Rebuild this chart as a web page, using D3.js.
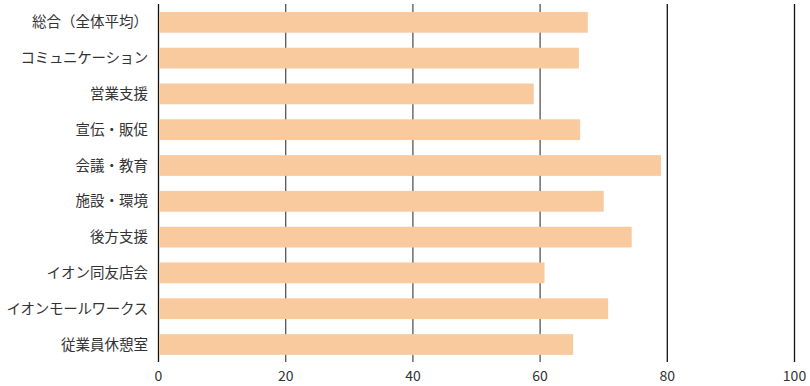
<!DOCTYPE html>
<html>
<head>
<meta charset="utf-8">
<script src="https://cdn.jsdelivr.net/npm/d3@7"></script>
<style>
  body { margin: 0; background: #fff; }
  text { font-family: "Noto Sans CJK JP", "Noto Sans", sans-serif; fill: #333; }
</style>
</head>
<body>
<script>
    // data
    var categories = ["総合（全体平均）", "コミュニケーション", "営業支援", "宣伝・販促", "会議・教育",
                      "施設・環境", "後方支援", "イオン同友店会", "イオンモールワークス", "従業員休憩室"];
    var scores = [67.5, 66.1, 59.0, 66.3, 79.0, 70.0, 74.4, 60.7, 70.7, 65.2];
    var tickValues = [0, 20, 40, 60, 80, 100];

    var width = 810, height = 386;

    var svg = d3.select("body").append("svg")
                .attr("width", width)
                .attr("height", height);

    var x = d3.scaleLinear().domain([0, 100]).range([158.5, 794.5]);
    var y = d3.scaleBand().domain(categories).range([4.4, 362.4]).paddingInner(0.42).paddingOuter(0.21);

    // vertical grid lines
    svg.append("g").selectAll("line")
        .data(tickValues)
        .enter().append("line")
        .attr("x1", function (d) { return x(d); })
        .attr("x2", function (d) { return x(d); })
        .attr("y1", 4)
        .attr("y2", 362)
        .attr("stroke", function (d) { return (d == 0 || d >= 80) ? "#111" : "#555"; })
        .attr("stroke-width", 1.3);

    // bars
    svg.append("g").selectAll("rect")
        .data(categories)
        .enter().append("rect")
        .attr("x", x(0) + 0.7)
        .attr("y", function (d) { return y(d); })
        .attr("width", function (d, i) { return x(scores[i]) - x(0) - 0.7; })
        .attr("height", y.bandwidth())
        .attr("fill", "#f8ca9e");

    // category labels
    svg.append("g").selectAll("text")
        .data(categories)
        .enter().append("text")
        .attr("x", 148)
        .attr("y", function (d) { return y(d) + y.bandwidth() / 2; })
        .attr("dy", "0.35em")
        .attr("text-anchor", "end")
        .attr("font-size", 14.5)
        .attr("letter-spacing", function (d) { return d.indexOf("ー") >= 0 ? -0.3 : 0; })
        .text(function (d) { return d; });

    // x tick labels
    svg.append("g").selectAll("text")
        .data(tickValues)
        .enter().append("text")
        .attr("x", function (d) { return x(d); })
        .attr("y", 376)
        .attr("dy", "0.35em")
        .attr("text-anchor", "middle")
        .attr("font-size", 14)
        .text(function (d) { return d; });
</script>
</body>
</html>
